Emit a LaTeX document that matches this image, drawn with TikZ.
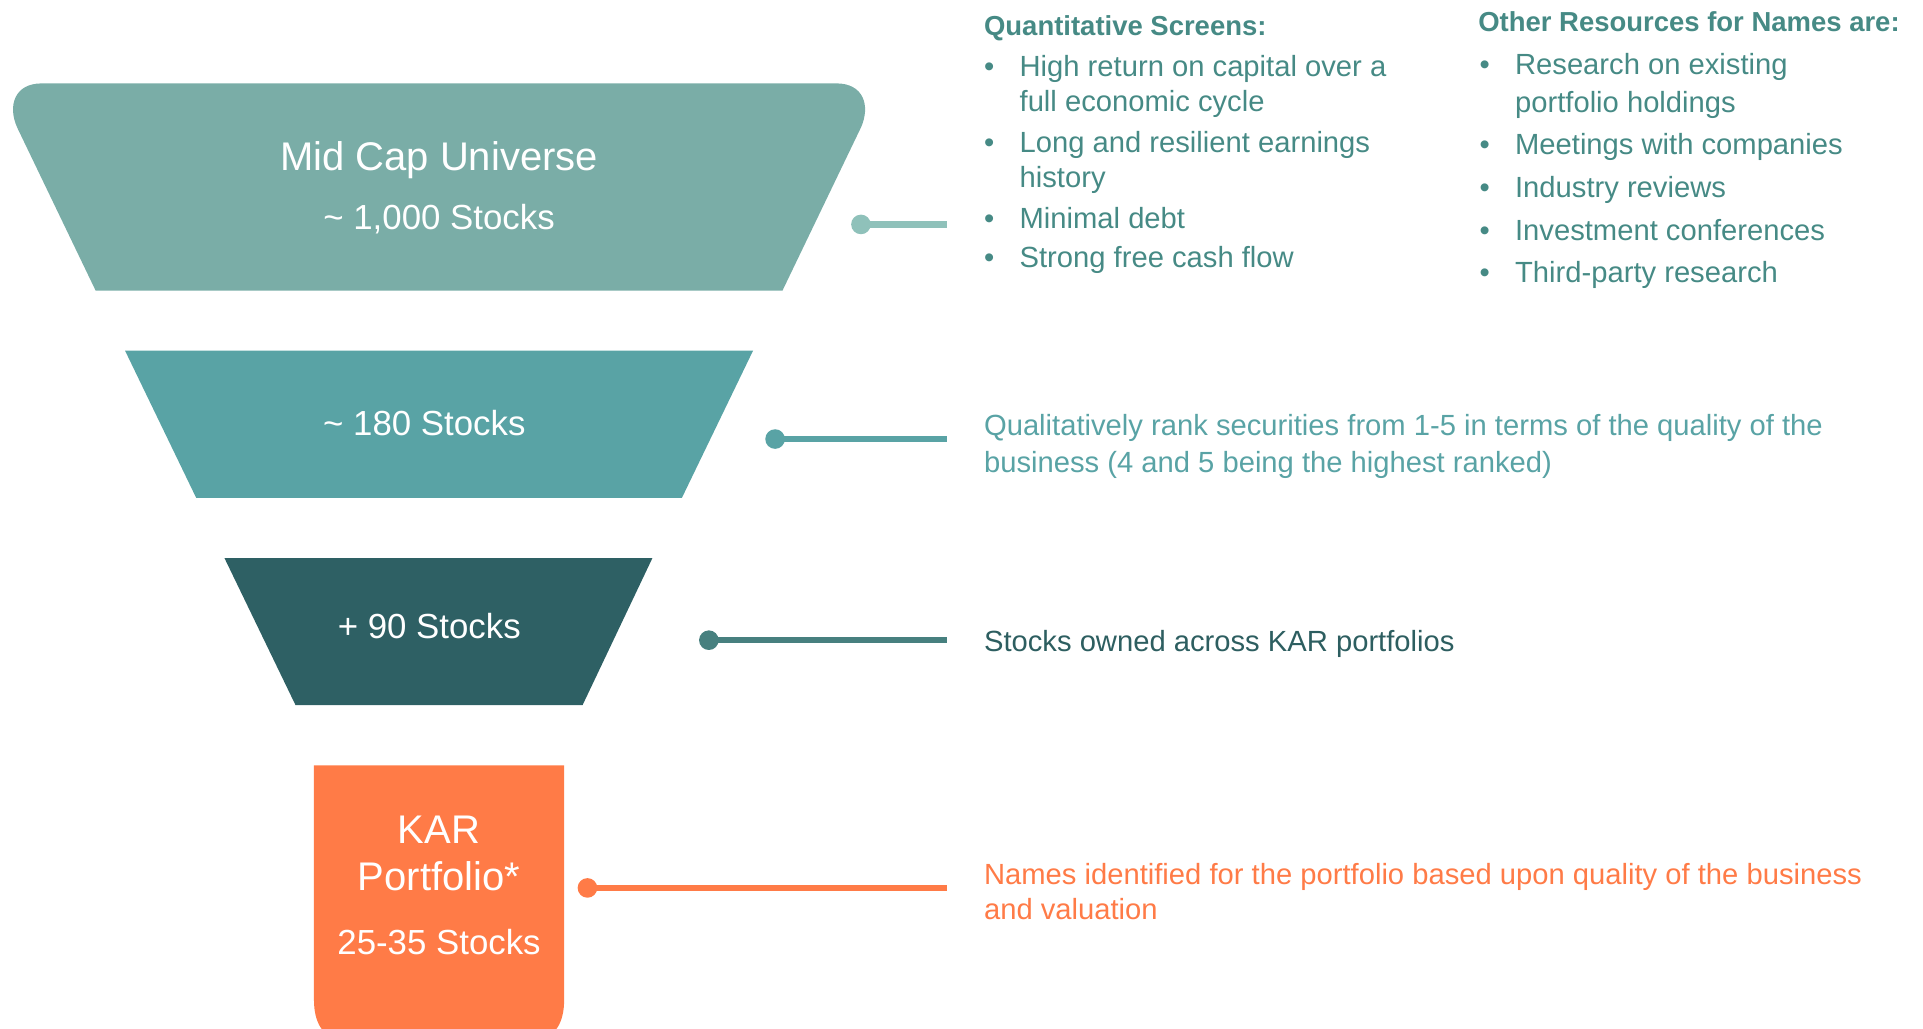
\documentclass[tikz,border=0pt]{standalone}
\usepackage{fontspec}
\setmainfont{Liberation Sans}
\definecolor{midcap}{HTML}{7AADA7}
\definecolor{cmid}{HTML}{59A3A5}
\definecolor{cdark}{HTML}{2E6064}
\definecolor{corange}{HTML}{FF7B47}
\definecolor{lineone}{HTML}{8FC1BA}
\definecolor{linethree}{HTML}{47807F}
\definecolor{toptext}{HTML}{468A85}
\definecolor{darktext}{HTML}{2D5E60}
\begin{document}
\begin{tikzpicture}[x=0.5pt,y=-0.5pt,
  title/.style={text=white,font=\fontsize{16.3}{19}\selectfont,anchor=base,inner sep=0pt},
  count/.style={text=white,font=\fontsize{14.2}{17}\selectfont,anchor=base,inner sep=0pt},
  body/.style={font=\fontsize{11.9}{14}\selectfont,anchor=base west,inner sep=0pt},
  head/.style={font=\bfseries\fontsize{11.2}{14}\selectfont,anchor=base west,inner sep=0pt},
  bul/.style={font=\fontsize{11.9}{14}\selectfont,anchor=base west,inner sep=0pt},
  conn/.style={line width=2.6pt},
  dotc/.style={circle,inner sep=0pt,minimum size=8pt}]
\useasboundingbox (0,0) rectangle (1568,839);
\begin{scope}
\clip (0,0) rectangle (1568,839);
% shapes
\fill[midcap] (78,237) -- (14,104) .. controls (6,86) and (12,68) .. (34,68) -- (682,68) .. controls (704,68) and (710,86) .. (702,104) -- (638,237) -- cycle;
\fill[cmid] (102,286) -- (614,286) -- (556,406) -- (160,406) -- cycle;
\fill[cdark] (183,455) -- (532,455) -- (475,575) -- (241,575) -- cycle;
\fill[corange] (256,624) -- (460,624) -- (460,815) .. controls (460,835) and (452,845) .. (440,848) -- (276,848) .. controls (264,845) and (256,835) .. (256,815) -- cycle;
\end{scope}
% funnel texts
\node[title] (t1) at (358,139) {Mid Cap Universe};
\node[count] (t1b) at (358,187) {\textasciitilde{} 1,000 Stocks};
\node[count] (t2) at (346,355) {\textasciitilde{} 180 Stocks};
\node[count] (t3) at (350,521) {+ 90 Stocks};
\node[title] (t4a) at (358,688) {KAR};
\node[title] (t4b) at (358,726) {Portfolio*};
\node[count] (t4c) at (358,778) {25-35 Stocks};
% connectors
\coordinate (d1) at (702,183); \coordinate (e1) at (772,183);
\coordinate (d2) at (632,358); \coordinate (e2) at (772,358);
\coordinate (d3) at (578,522); \coordinate (e3) at (772,522);
\coordinate (d4) at (479,724); \coordinate (e4) at (772,724);
\draw[conn,lineone] (d1) -- (e1); \node[dotc,fill=lineone] (p1) at (d1) {};
\draw[conn,cmid] (d2) -- (e2); \node[dotc,fill=cmid] (p2) at (d2) {};
\draw[conn,linethree] (d3) -- (e3); \node[dotc,fill=linethree] (p3) at (d3) {};
\draw[conn,corange] (d4) -- (e4); \node[dotc,fill=corange] (p4) at (d4) {};
% quantitative screens
\begin{scope}[text=toptext]
\node[head] (qh) at (802,29) {Quantitative Screens:};
\node[bul] (qb1) at (802,62) {•};
\node[body] (q1) at (831,62) {High return on capital over a};
\node[body] (q1b) at (831,91) {full economic cycle};
\node[bul] (qb2) at (802,124) {•};
\node[body] (q2) at (831,124) {Long and resilient earnings};
\node[body] (q2b) at (831,153) {history};
\node[bul] (qb3) at (802,186) {•};
\node[body] (q3) at (831,186) {Minimal debt};
\node[bul] (qb4) at (802,218) {•};
\node[body] (q4) at (831,218) {Strong free cash flow};
\node[head] (oh) at (1205,26) {Other Resources for Names are:};
\node[bul] (ob1) at (1206,61) {•};
\node[body] (o1) at (1235,61) {Research on existing};
\node[body] (o1b) at (1235,92) {portfolio holdings};
\node[bul] (ob2) at (1206,126) {•};
\node[body] (o2) at (1235,126) {Meetings with companies};
\node[bul] (ob3) at (1206,161) {•};
\node[body] (o3) at (1235,161) {Industry reviews};
\node[bul] (ob4) at (1206,196) {•};
\node[body] (o4) at (1235,196) {Investment conferences};
\node[bul] (ob5) at (1206,230) {•};
\node[body] (o5) at (1235,230) {Third-party research};
\end{scope}
\node[body,text=cmid] (r2a) at (802,355) {Qualitatively rank securities from 1-5 in terms of the quality of the};
\node[body,text=cmid] (r2b) at (802,385) {business (4 and 5 being the highest ranked)};
\node[body,text=darktext] (r3) at (802,531) {Stocks owned across KAR portfolios};
\node[body,text=corange] (r4a) at (802,721) {Names identified for the portfolio based upon quality of the business};
\node[body,text=corange] (r4b) at (802,750) {and valuation};
\end{tikzpicture}
\end{document}
